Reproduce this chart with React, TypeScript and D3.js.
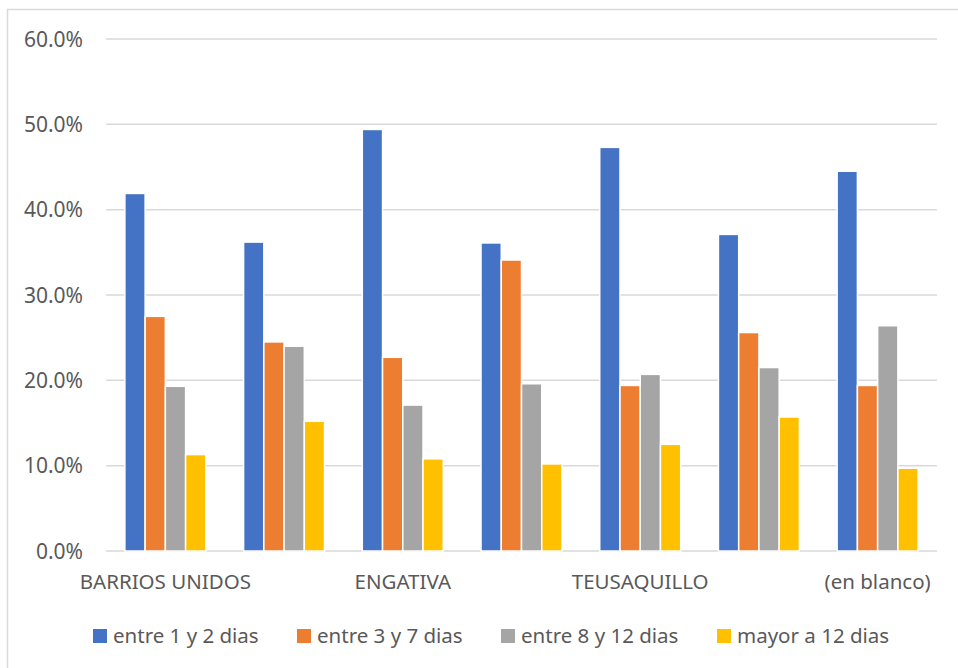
import React from "react";
import * as d3 from "d3";

const categories = [
  "BARRIOS UNIDOS",
  "CHAPINERO",
  "ENGATIVA",
  "SUBA",
  "TEUSAQUILLO",
  "USAQUEN",
  "(en blanco)",
];
const shownLabels = ["BARRIOS UNIDOS", "ENGATIVA", "TEUSAQUILLO", "(en blanco)"];
const seriesNames = ["entre 1 y 2 dias", "entre 3 y 7 dias", "entre 8 y 12 dias", "mayor a 12 dias"];
const s1 = [0.419, 0.362, 0.494, 0.361, 0.473, 0.371, 0.445];
const s2 = [0.275, 0.245, 0.227, 0.341, 0.194, 0.256, 0.194];
const s3 = [0.193, 0.240, 0.171, 0.196, 0.207, 0.215, 0.264];
const s4 = [0.113, 0.152, 0.108, 0.102, 0.125, 0.157, 0.097];
const yTicks = [0, 0.1, 0.2, 0.3, 0.4, 0.5, 0.6];
const colors = ["#4472C4", "#ED7D31", "#A5A5A5", "#FFC000"];

const W = 958;
const H = 668;
const font = "'Noto Sans', 'Open Sans', sans-serif";
const textColor = "#595959";

export default function App() {
  const series = [s1, s2, s3, s4];
  const x = d3.scaleBand<string>().domain(categories).range([106, 937]).paddingInner(0.318).paddingOuter(0.159);
  const xs = d3.scaleBand<number>().domain([0, 1, 2, 3]).range([0, x.bandwidth()]);
  const y = d3.scaleLinear().domain([0, 0.6]).range([551, 39]);
  const fmt = d3.format(".1%");
  const legendX = [93, 297, 501, 717];

  return (
    <svg width={W} height={H} style={{ position: "absolute", left: 0, top: 0 }} fontFamily={font}>
      <rect x={0} y={0} width={W} height={H} fill="#fff" />
      <rect x={7.5} y={9.5} width={W + 10} height={H + 10} fill="none" stroke="#d9d9d9" strokeWidth={1.5} />
      {yTicks.map((t) => (
        <g key={t}>
          <line x1={106} x2={937} y1={y(t)} y2={y(t)} stroke="#d9d9d9" strokeWidth={1.5} />
          <text x={83} y={y(t)} dy="0.36em" textAnchor="end" fontSize={21} fill={textColor}>
            {fmt(t)}
          </text>
        </g>
      ))}
      {categories.map((c, ci) => (
        <g key={c} transform={`translate(${x(c)},0)`}>
          {series.map((s, si) => (
            <rect
              key={si}
              x={xs(si)}
              y={y(s[ci])}
              width={xs.bandwidth()}
              height={y(0) - y(s[ci])}
              fill={colors[si]}
              stroke="#fff"
              strokeWidth={1.5}
            />
          ))}
        </g>
      ))}
      {categories.map((c) =>
        shownLabels.includes(c) ? (
          <text key={c} x={(x(c) as number) + x.bandwidth() / 2} y={588.5} textAnchor="middle" fontSize={20.5} fill={textColor}>
            {c}
          </text>
        ) : null
      )}
      {seriesNames.map((n, i) => (
        <g key={n}>
          <rect x={legendX[i]} y={629} width={14} height={14} fill={colors[i]} />
          <text x={legendX[i] + 20} y={643} fontSize={20.5} fill={textColor}>
            {n}
          </text>
        </g>
      ))}
    </svg>
  );
}
